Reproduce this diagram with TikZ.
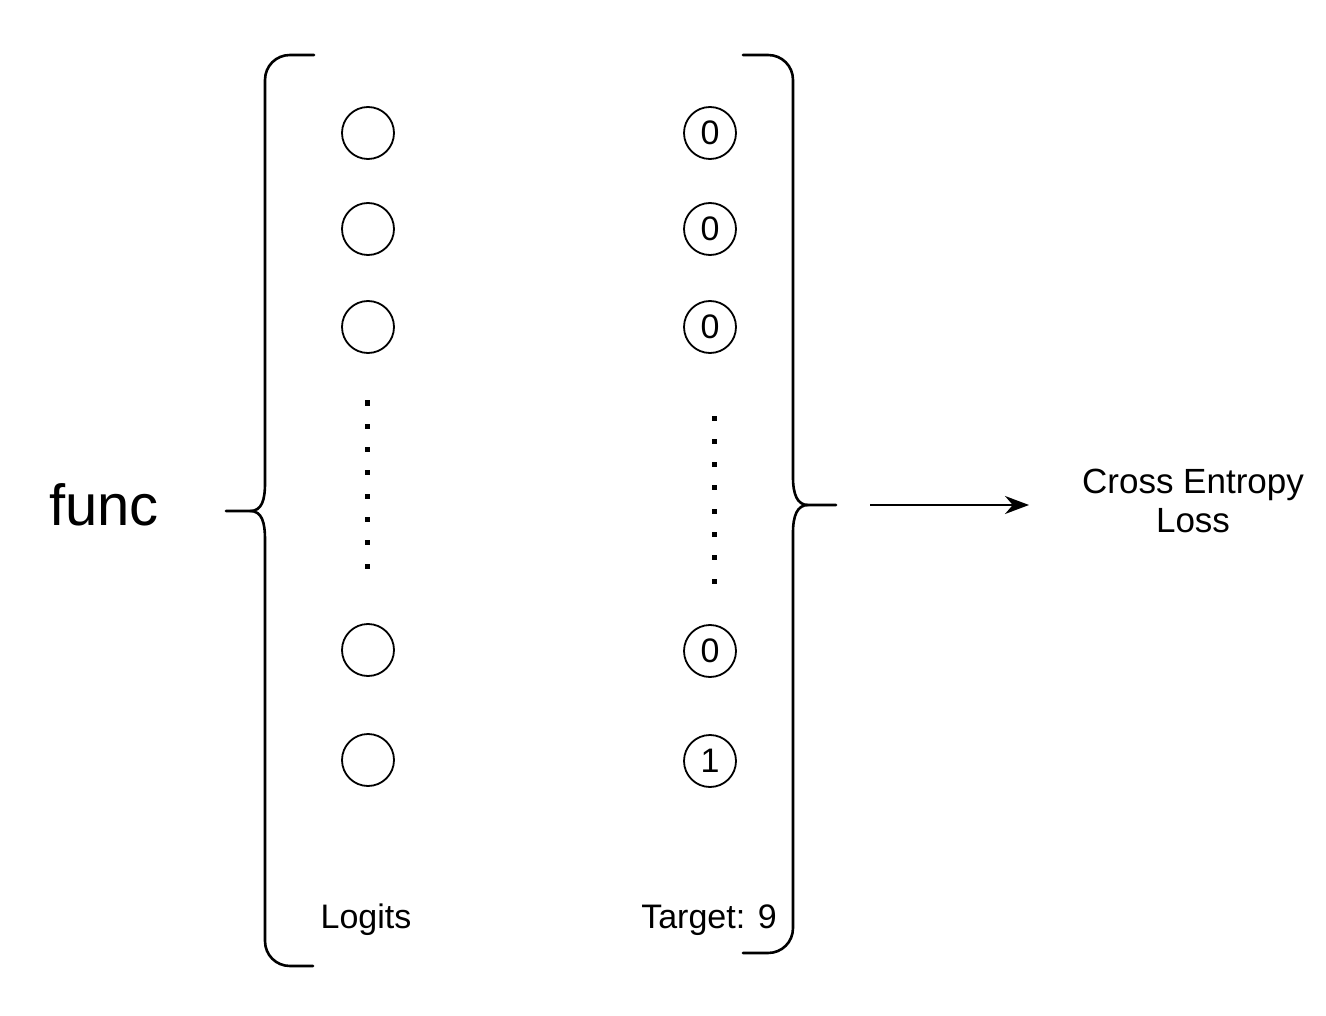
\documentclass[tikz,border=0pt]{standalone}
\usepackage{fontspec}
\setmainfont{Liberation Sans}
\usetikzlibrary{arrows.meta}
\begin{document}
\begin{tikzpicture}[x=1pt,y=-1pt,
  brace/.style={line width=2.6pt, line cap=round},
  logit/.style={circle, draw, line width=1.8pt, minimum size=52pt, inner sep=0pt},
  tgt/.style={circle, draw, line width=1.8pt, minimum size=52pt, inner sep=0pt, font=\fontsize{34}{36}\selectfont},
  lbl/.style={font=\fontsize{34}{39}\selectfont, inner sep=0pt},
  dotsq/.style={fill=black, minimum size=5pt, inner sep=0pt},
  arr/.style={line width=2.2pt, -{Stealth[length=24pt,width=18pt]}}]
\useasboundingbox (0,0) rectangle (1326,1016);
% left brace
\draw[brace] (314,55) -- (290,55) .. controls (276,55) and (265,66) .. (265,80)
  -- (265,483) .. controls (265,500) and (262,511) .. (250,511) -- (226,511);
\draw[brace] (250,511) .. controls (262,511) and (265,522) .. (265,540)
  -- (265,941) .. controls (265,955) and (276,966) .. (290,966) -- (313,966);
% right brace
\draw[brace] (743,55) -- (768,55) .. controls (782,55) and (793,66) .. (793,80)
  -- (793,477) .. controls (793,494) and (797,505) .. (808,505) -- (836,505);
\draw[brace] (808,505) .. controls (797,505) and (793,516) .. (793,533)
  -- (793,928) .. controls (793,942) and (782,953) .. (768,953) -- (743,953);
% logits
\node[logit] (L1) at (368,133) {};
\node[logit] (L2) at (368,229) {};
\node[logit] (L3) at (368,327) {};
\node[logit] (L4) at (368,650) {};
\node[logit] (L5) at (368,760) {};
% targets
\node[tgt] (T1) at (710,133) {0};
\node[tgt] (T2) at (710,229) {0};
\node[tgt] (T3) at (710,327) {0};
\node[tgt] (T4) at (710,651) {0};
\node[tgt] (T5) at (710,761) {1};
% dots
\foreach \i in {0,...,7} {
  \node[dotsq] (ld\i) at (367,{403+23.3*\i}) {};
  \node[dotsq] (rd\i) at (714,{418+23.3*\i}) {};
}
% labels
\node[font=\fontsize{58}{60}\selectfont, inner sep=0pt, anchor=base west] (func) at (49,525) {func};
\node[lbl, anchor=base] (logits) at (366,928) {Logits};
\node[lbl, anchor=base] (target) at (709,928) {Target: 9};
\node[lbl, font=\fontsize{35}{39}\selectfont, align=center] (ce) at (1193,501) {Cross Entropy\\Loss};
% arrow
\coordinate (a0) at (870,505);
\coordinate (a1) at (1029,505);
\draw[arr] (a0) -- (a1);
\end{tikzpicture}
\end{document}
